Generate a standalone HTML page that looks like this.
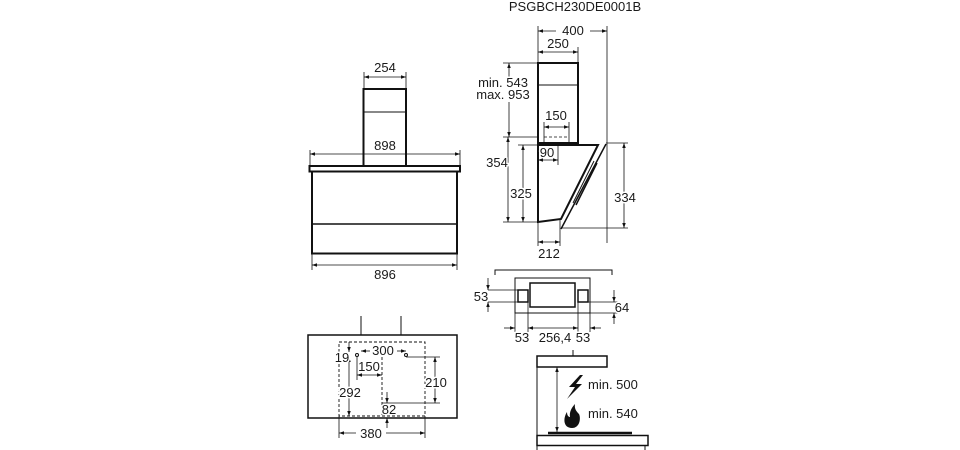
<!DOCTYPE html>
<html><head><meta charset="utf-8"><style>
html,body{margin:0;padding:0;background:#fff;width:960px;height:450px;overflow:hidden}
text{font-family:"Liberation Sans",sans-serif;font-size:13px;fill:#1a1a1a;stroke:#fff;stroke-width:3px;paint-order:stroke;stroke-linejoin:round}
</style></head><body>
<svg width="960" height="450" viewBox="0 0 960 450" xmlns="http://www.w3.org/2000/svg">
<defs>
<marker id="a" viewBox="0 0 10 10" refX="10" refY="5" markerWidth="7" markerHeight="5" orient="auto-start-reverse" markerUnits="userSpaceOnUse"><path d="M0,1.5L10,5L0,8.5z" fill="#111"/></marker>
</defs>
<text x="575" y="11" text-anchor="middle">PSGBCH230DE0001B</text>

<!-- Front view -->
<g stroke="#111" fill="none">
<rect x="363.5" y="89" width="42.5" height="77" stroke-width="2"/>
<line x1="364" y1="112" x2="406" y2="112" stroke-width="1"/>
<rect x="309.5" y="166" width="150.5" height="5.5" stroke-width="2"/>
<rect x="312" y="171.5" width="145" height="82" stroke-width="2"/>
<line x1="312" y1="224" x2="457" y2="224" stroke-width="1.5"/>
<g stroke-width="0.8">
<line x1="364" y1="72" x2="364" y2="89"/><line x1="406" y1="72" x2="406" y2="89"/>
<line x1="364" y1="77" x2="406" y2="77" marker-start="url(#a)" marker-end="url(#a)"/>
<line x1="310" y1="150" x2="310" y2="166"/><line x1="460" y1="150" x2="460" y2="166"/>
<line x1="310" y1="154" x2="460" y2="154" marker-start="url(#a)" marker-end="url(#a)"/>
<line x1="312" y1="254" x2="312" y2="270"/><line x1="457" y1="254" x2="457" y2="270"/>
<line x1="312" y1="265" x2="457" y2="265" marker-start="url(#a)" marker-end="url(#a)"/>
</g></g>
<text x="385" y="72" text-anchor="middle">254</text>
<text x="385" y="150" text-anchor="middle">898</text>
<text x="385" y="279" text-anchor="middle">896</text>

<!-- Side view -->
<g stroke="#111" fill="none">
<rect x="538" y="63" width="40" height="80" stroke-width="2"/>
<line x1="538" y1="85" x2="578" y2="85" stroke-width="1"/>
<path d="M538,145 L598,145 L561,219 L538,222 Z" stroke-width="2"/>
<line x1="606" y1="144" x2="561" y2="229" stroke-width="1.5"/>
<line x1="597" y1="163" x2="576" y2="205" stroke-width="1.5"/>
<line x1="594" y1="161" x2="573" y2="203" stroke-width="1"/>
<g stroke-width="0.8">
<line x1="538" y1="26" x2="538" y2="63"/><line x1="607" y1="26" x2="607" y2="243"/>
<line x1="538" y1="31" x2="556" y2="31" marker-start="url(#a)"/><line x1="590" y1="31" x2="607" y2="31" marker-end="url(#a)"/>
<line x1="578" y1="47" x2="578" y2="63"/>
<line x1="538" y1="52" x2="578" y2="52" marker-start="url(#a)" marker-end="url(#a)"/>
<line x1="503" y1="63" x2="538" y2="63"/>
<line x1="509" y1="63" x2="509" y2="80" marker-start="url(#a)"/>
<line x1="509" y1="102" x2="509" y2="137" marker-end="url(#a)"/>
<line x1="503" y1="137" x2="538" y2="137"/>
<line x1="508" y1="137" x2="508" y2="222" marker-start="url(#a)" marker-end="url(#a)"/>
<line x1="503" y1="222" x2="538" y2="222"/>
<line x1="523" y1="145" x2="523" y2="222" marker-start="url(#a)" marker-end="url(#a)"/>
<line x1="518" y1="145" x2="538" y2="145"/>
<line x1="544" y1="122" x2="544" y2="143"/><line x1="569" y1="122" x2="569" y2="143"/>
<line x1="544" y1="127" x2="569" y2="127" marker-start="url(#a)" marker-end="url(#a)"/>
<line x1="544" y1="137" x2="569" y2="137" stroke-dasharray="3,2"/>
<line x1="558" y1="145" x2="558" y2="165"/>
<line x1="538" y1="160" x2="558" y2="160" marker-start="url(#a)" marker-end="url(#a)"/>
<line x1="606" y1="143" x2="628" y2="143"/><line x1="561" y1="228" x2="628" y2="228"/>
<line x1="624" y1="143" x2="624" y2="228" marker-start="url(#a)" marker-end="url(#a)"/>
<line x1="538" y1="222" x2="538" y2="246"/><line x1="560" y1="220" x2="560" y2="246"/>
<line x1="538" y1="242" x2="560" y2="242" marker-start="url(#a)" marker-end="url(#a)"/>
</g></g>
<text x="573" y="35" text-anchor="middle">400</text>
<text x="558" y="48" text-anchor="middle">250</text>
<text x="503" y="87" text-anchor="middle">min. 543</text>
<text x="503" y="99" text-anchor="middle">max. 953</text>
<text x="556" y="120" text-anchor="middle">150</text>
<text x="547" y="157" text-anchor="middle">90</text>
<text x="497" y="167" text-anchor="middle">354</text>
<text x="521" y="198" text-anchor="middle">325</text>
<text x="625" y="202" text-anchor="middle">334</text>
<text x="549" y="258" text-anchor="middle">212</text>

<!-- Bottom view -->
<g stroke="#111" fill="none">
<line x1="361" y1="316" x2="361" y2="335" stroke-width="1"/>
<line x1="401" y1="316" x2="401" y2="335" stroke-width="1"/>
<rect x="308" y="335" width="149" height="83" stroke-width="1.5"/>
<rect x="339" y="342" width="86" height="74" stroke-width="0.9" stroke-dasharray="3,2"/>
<line x1="382" y1="357" x2="382" y2="416" stroke-width="0.9" stroke-dasharray="3,2"/>
<circle cx="357" cy="355" r="1.5" stroke-width="1"/><circle cx="406" cy="355" r="1.5" stroke-width="1"/>
<g stroke-width="0.8">
<line x1="361" y1="351" x2="370" y2="351" marker-start="url(#a)"/>
<line x1="397" y1="351" x2="406" y2="351" marker-end="url(#a)"/>
<polyline points="406,357 440,357"/><polyline points="382,403 440,403"/>
<line x1="435" y1="357" x2="435" y2="403" marker-start="url(#a)" marker-end="url(#a)"/>
<line x1="349" y1="342" x2="349" y2="352" marker-end="url(#a)"/>
<line x1="349" y1="357" x2="349" y2="416" marker-start="url(#a)" marker-end="url(#a)"/>
<line x1="357" y1="357" x2="357" y2="380"/>
<line x1="357" y1="375" x2="382" y2="375" marker-start="url(#a)" marker-end="url(#a)"/>
<line x1="387" y1="392" x2="387" y2="403" marker-end="url(#a)"/>
<line x1="387" y1="428" x2="387" y2="418" marker-end="url(#a)"/>
<line x1="339" y1="416" x2="339" y2="438"/><line x1="425" y1="416" x2="425" y2="438"/>
<line x1="339" y1="433" x2="356" y2="433" marker-start="url(#a)"/>
<line x1="386" y1="433" x2="425" y2="433" marker-end="url(#a)"/>
</g></g>
<text x="342" y="362" text-anchor="middle">19</text>
<text x="383" y="355" text-anchor="middle">300</text>
<text x="369" y="371" text-anchor="middle">150</text>
<text x="350" y="397" text-anchor="middle">292</text>
<text x="436" y="387" text-anchor="middle">210</text>
<text x="389" y="414" text-anchor="middle">82</text>
<text x="371" y="438" text-anchor="middle">380</text>

<!-- Top (duct) view -->
<g stroke="#111" fill="none">
<polyline points="495,275 495,270 612,270 612,275" stroke-width="1"/>
<rect x="515" y="278" width="75" height="35" stroke-width="1"/>
<rect x="530" y="283" width="45" height="24" stroke-width="1.5"/>
<rect x="518" y="290" width="10" height="12" stroke-width="1.5"/>
<rect x="578" y="290" width="10" height="12" stroke-width="1.5"/>
<g stroke-width="0.8">
<line x1="488" y1="290" x2="518" y2="290"/><line x1="488" y1="302" x2="518" y2="302"/>
<line x1="488" y1="278" x2="488" y2="290" marker-end="url(#a)"/>
<line x1="488" y1="312" x2="488" y2="302" marker-end="url(#a)"/>
<line x1="588" y1="302" x2="618" y2="302"/><line x1="590" y1="313" x2="618" y2="313"/>
<line x1="614" y1="290" x2="614" y2="302" marker-end="url(#a)"/>
<line x1="614" y1="324" x2="614" y2="313" marker-end="url(#a)"/>
<line x1="515" y1="313" x2="515" y2="332"/><line x1="528" y1="302" x2="528" y2="332"/>
<line x1="578" y1="302" x2="578" y2="332"/><line x1="590" y1="313" x2="590" y2="332"/>
<line x1="504" y1="328" x2="515" y2="328" marker-end="url(#a)"/>
<line x1="528" y1="328" x2="578" y2="328" marker-start="url(#a)" marker-end="url(#a)"/>
<line x1="601" y1="328" x2="590" y2="328" marker-end="url(#a)"/>
</g></g>
<text x="481" y="301" text-anchor="middle">53</text>
<text x="622" y="312" text-anchor="middle">64</text>
<text x="522" y="342" text-anchor="middle">53</text>
<text x="555" y="342" text-anchor="middle">256,4</text>
<text x="583" y="342" text-anchor="middle">53</text>

<!-- Hob distance -->
<g stroke="#111" fill="none">
<line x1="573" y1="350" x2="573" y2="356" stroke-width="1"/>
<rect x="537" y="356" width="70" height="11" stroke-width="1.5"/>
<line x1="537" y1="356" x2="537" y2="450" stroke-width="1"/>
<line x1="557" y1="367" x2="557" y2="432" stroke-width="0.8" marker-start="url(#a)" marker-end="url(#a)"/>
<line x1="548" y1="433" x2="632" y2="433" stroke-width="2.5"/>
<rect x="537" y="435.5" width="111" height="10" stroke-width="1.5"/>
<line x1="645" y1="446" x2="645" y2="450" stroke-width="1"/>
</g>
<path d="M580,375 L569,387 L575,387 L567,399 L582,384 L576,384 L583,375 Z" fill="#111"/>
<path d="M572,428 C563,428 563,418 567,412 C567,416 569,417 570,417 C569,412 572,407 575,404 C574,409 577,412 579,414 C581,418 580,428 572,428 Z" fill="#111"/>
<text x="588" y="389">min. 500</text>
<text x="588" y="418">min. 540</text>
</svg>
</body></html>
